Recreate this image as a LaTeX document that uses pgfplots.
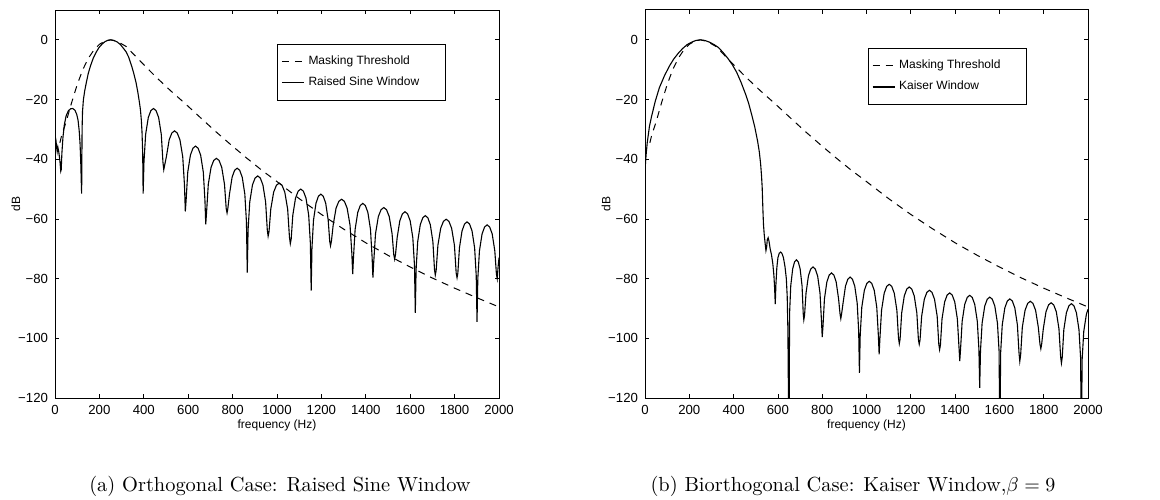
\documentclass[border=0pt]{standalone}
\usepackage{fontspec}
\usepackage{pgfplots}
\pgfplotsset{compat=1.18}
\newfontfamily\hv{Liberation Sans}

\pgfplotstableread{
x y
22 -34.5
30 -32
50 -27.5
75 -21
100 -15
125 -10
150 -6.2
175 -3.4
200 -1.5
225 -0.4
250 0
280 -0.5
320 -2.2
380 -6.8
450 -12.1
520 -17
590 -21.6
660 -26.4
725 -30.8
790 -35
860 -39.4
930 -43.6
1000 -47.5
1100 -53.2
1200 -58.5
1300 -63.4
1400 -68
1500 -72.2
1600 -76.1
1700 -79.8
1800 -83.2
1900 -86.4
2000 -89.5
}\mask

\pgfplotstableread{
x y
0 -32
4 -33.5
8 -36.5
10 -37.5
13 -36
17 -37.5
22 -40.5
26 -44
28 -43.5
31 -38
36 -32.5
42 -28.5
50 -25.5
60 -23.8
70 -23.1
80 -23
90 -23.6
98 -25
104 -27
109 -30.5
113 -35
116 -41
118.5 -48
120 -51.5
122 -30
124 -24
128 -20
134 -17
142 -14
150 -11.2
160 -8.7
172 -6.2
185 -4.2
198 -2.6
211 -1.5
225 -0.6
238 -0.15
252 0
266 -0.2
280 -0.7
295 -1.6
310 -3
320 -4
332 -5.8
345 -8.7
355 -11.3
365 -14.3
373 -17.5
380 -20.8
385 -23.5
389 -27
392 -31
395 -38
397 -51.5
400.7 -41
408.2 -31.7
420.3 -26
431.9 -23.7
443.5 -23
455.1 -23.7
466.8 -26
478.8 -31.7
486.3 -41
490 -43.5
493.9 -42
501.6 -39.2
514.3 -33.5
526.4 -31.2
538.5 -30.5
550.6 -31.2
562.8 -33.5
575.4 -39.2
583.1 -48.5
587 -57.5
590.7 -53.6
598 -44.3
610 -38.6
621.5 -36.3
633 -35.6
644.5 -36.3
656 -38.6
668 -44.3
675.3 -53.6
679 -61.8
682.8 -57.7
690.5 -48.4
703 -42.7
715 -40.4
727 -39.7
739 -40.4
751 -42.7
763.5 -48.4
771.2 -56.5
775 -58
778.6 -56.5
785.9 -51.7
797.8 -46
809.1 -43.7
820.5 -43
831.9 -43.7
843.3 -46
855.1 -51.7
862.4 -61
866 -78
869.8 -63.6
877.3 -54.3
889.5 -48.6
901.3 -46.3
913 -45.6
924.8 -46.3
936.5 -48.6
948.7 -54.3
956.2 -63.6
960 -65.8
964 -64.3
972 -56.7
985 -51
997.5 -48.7
1010 -48
1022.5 -48.7
1035 -51
1048 -56.7
1056 -66
1060 -68.3
1063.8 -66.8
1071.3 -58.7
1083.5 -53
1095.3 -50.7
1107 -50
1118.8 -50.7
1130.5 -53
1142.7 -58.7
1150.2 -68
1154 -84
1157.5 -69.7
1164.4 -60.4
1175.8 -54.7
1186.6 -52.4
1197.5 -51.7
1208.4 -52.4
1219.3 -54.7
1230.6 -60.4
1237.5 -67.5
1241 -69
1245 -67.5
1253 -62.1
1266 -56.4
1278.5 -54.1
1291 -53.4
1303.5 -54.1
1316 -56.4
1329 -62.1
1337 -71.4
1341 -78.5
1344.6 -72.8
1351.9 -63.5
1363.8 -57.8
1375.1 -55.5
1386.5 -54.8
1397.9 -55.5
1409.3 -57.8
1421.1 -63.5
1428.4 -72.8
1432 -79.7
1435.9 -74.2
1443.8 -64.9
1456.5 -59.2
1468.8 -56.9
1481 -56.2
1493.3 -56.9
1505.5 -59.2
1518.2 -64.9
1526.1 -72
1530 -73.5
1533.7 -72
1541.2 -66.3
1553.3 -60.6
1564.9 -58.3
1576.5 -57.6
1588.1 -58.3
1599.8 -60.6
1611.8 -66.3
1619.3 -75.6
1623 -91.5
1626.6 -76.9
1633.8 -67.6
1645.5 -61.9
1656.8 -59.6
1668 -58.9
1679.3 -59.6
1690.5 -61.9
1702.2 -67.6
1709.4 -76.9
1713 -78.8
1716.9 -77.3
1724.8 -68.8
1737.5 -63.1
1749.8 -60.8
1762 -60.1
1774.3 -60.8
1786.5 -63.1
1799.2 -68.8
1807.1 -78.1
1811 -79.7
1814.6 -78.2
1821.8 -69.7
1833.5 -64
1844.8 -61.7
1856 -61
1867.3 -61.7
1878.5 -64
1890.2 -69.7
1897.4 -79
1901 -94.5
1904.6 -80
1911.9 -70.7
1923.8 -65
1935.1 -62.7
1946.5 -62
1957.9 -62.7
1969.3 -65
1981.1 -70.7
1988.4 -78.5
1992 -80
1996 -76
2000 -73
}\rsw

\pgfplotstableread{
x y
0 -46
2 -41.5
5 -38.5
10 -34.5
20 -29
30 -25.5
47 -20.4
65 -16
88 -12
110 -8.8
129 -6.5
150 -4.5
170 -2.9
190 -1.6
210 -0.8
230 -0.2
250 0
270 -0.2
292 -0.8
312 -1.6
332 -2.6
352 -4.2
373 -6.1
394 -8.3
414 -10.9
434 -14.3
454 -18.2
468 -21.3
481 -24.9
495 -29
508 -33.8
516 -37.5
522 -41.6
526 -45.5
529 -49.4
531 -54
533 -58.4
535 -62
538 -65
542 -68
546 -70.6
549 -69.5
552 -67
556 -66.3
560 -67.5
565 -70
571 -72
577 -75
582 -79
585 -83
588 -88.5
591 -82
595 -76.5
600 -73
606 -71.5
612 -71.1
618 -71.5
625 -73
632 -76
638 -80
642 -86
645 -97
650 -140
652.7 -91.7
658 -82.4
666.8 -76.7
675.1 -74.4
683.5 -73.7
691.9 -74.4
700.3 -76.7
709 -82.4
714.3 -91.7
717 -93.8
720.3 -92.3
727 -84.8
737.8 -79.1
748.1 -76.8
758.5 -76.1
768.9 -76.8
779.3 -79.1
790 -84.8
796.7 -94.1
800 -99.6
803.4 -96.1
810.1 -86.8
821 -81.1
831.5 -78.8
842 -78.1
852.5 -78.8
863 -81.1
873.9 -86.8
880.6 -91.9
884 -93.4
887.4 -91.9
894.1 -88.2
905 -82.5
915.5 -80.2
926 -79.5
936.5 -80.2
947 -82.5
957.9 -88.2
964.6 -97.5
968 -111.6
971.6 -98.9
978.7 -89.6
990.3 -83.9
1001.4 -81.6
1012.5 -80.9
1023.6 -81.6
1034.8 -83.9
1046.3 -89.6
1053.4 -98.9
1057 -105.4
1060.6 -99.9
1067.9 -90.6
1079.8 -84.9
1091.1 -82.6
1102.5 -81.9
1113.9 -82.6
1125.3 -84.9
1137.1 -90.6
1144.4 -99.9
1148 -101.8
1151.6 -100.3
1158.8 -91.5
1170.5 -85.8
1181.8 -83.5
1193 -82.8
1204.3 -83.5
1215.5 -85.8
1227.2 -91.5
1234.4 -100.5
1238 -102
1241.7 -100.5
1249 -92.6
1261 -86.9
1272.5 -84.6
1284 -83.9
1295.5 -84.6
1307 -86.9
1319 -92.6
1326.3 -101.9
1330 -103.8
1333.6 -102.3
1340.9 -93.5
1352.8 -87.8
1364.1 -85.5
1375.5 -84.8
1386.9 -85.5
1398.3 -87.8
1410.1 -93.5
1417.4 -102.8
1421 -107.6
1424.6 -103.6
1431.8 -94.3
1443.5 -88.6
1454.8 -86.3
1466 -85.6
1477.3 -86.3
1488.5 -88.6
1500.2 -94.3
1507.4 -103.6
1511 -116.6
1514.6 -104.2
1521.9 -94.9
1533.8 -89.2
1545.1 -86.9
1556.5 -86.2
1567.9 -86.9
1579.3 -89.2
1591.1 -94.9
1598.4 -104.2
1602 -135
1605.6 -104.8
1612.8 -95.5
1624.5 -89.8
1635.8 -87.5
1647 -86.8
1658.3 -87.5
1669.5 -89.8
1681.2 -95.5
1688.4 -104.8
1692 -107.7
1695.8 -105.6
1703.4 -96.3
1715.8 -90.6
1727.6 -88.3
1739.5 -87.6
1751.4 -88.3
1763.3 -90.6
1775.6 -96.3
1783.2 -102
1787 -103.5
1790.7 -102
1798.2 -96.8
1810.3 -91.1
1821.9 -88.8
1833.5 -88.1
1845.1 -88.8
1856.8 -91.1
1868.8 -96.8
1876.3 -106.1
1880 -108.3
1883.6 -106.4
1890.8 -97.1
1902.5 -91.4
1913.8 -89.1
1925 -88.4
1936.3 -89.1
1947.5 -91.4
1959.2 -97.1
1966.4 -106.4
1970 -135
1973.6 -107
1980.8 -97.7
1992.5 -92
2000 -90.3
}\kw

\pgfplotsset{
  myax/.style={
    scale only axis, width=222pt, height=194pt,
    xmin=0, xmax=2000, ymin=-120, ymax=10,
    xtick={0,200,...,2000}, ytick={-120,-100,...,0},
    yticklabels={−120,−100,−80,−60,−40,−20,0},
    tick align=inside, major tick length=2pt,
    tick style={line width=0.4pt, black},
    axis line style={line width=0.5pt},
    ticklabel style={font=\hv\fontsize{6.6}{7.5}\selectfont},
    /pgf/number format/assume math mode=true,
    /pgf/number format/1000 sep={},
    scaled ticks=false,
    xlabel={frequency (Hz)}, ylabel={dB},
    label style={font=\hv\fontsize{6}{7}\selectfont},
    xlabel style={yshift=4pt},
    ylabel style={at={(axis description cs:-0.088,0.5)}, anchor=center},
    legend cell align=left,
    legend image code/.code={\draw[#1] (0pt,0pt) -- (11pt,0pt);},
    legend style={draw=black, line width=0.4pt, fill=white,
      font=\hv\fontsize{6}{7}\selectfont, inner xsep=2pt, inner ysep=3.6pt,
      row sep=1pt, anchor=north west},
  },
  dsh/.style={black, line width=0.5pt, dash pattern=on 3.5pt off 3pt},
  sld/.style={black, line width=0.55pt},
}

\begin{document}
\begin{tikzpicture}
\useasboundingbox (0,0) rectangle (580pt,249.5pt);

\begin{axis}[myax, at={(27.5pt,50.5pt)}, anchor=south west,
  legend style={at={(axis cs:1000,-1.3)}}]
\addplot[dsh] table {\mask};
\addlegendentry{Masking Threshold}
\addplot[sld] table {\rsw};
\addlegendentry{Raised Sine Window\rule{9pt}{0pt}}
\end{axis}

\begin{axis}[myax, at={(322.5pt,50.5pt)}, anchor=south west, width=221.5pt,
  legend style={at={(axis cs:1005,-2.7)}}]
\addplot[dsh] table {\mask};
\addlegendentry{Masking Threshold\rule{9pt}{0pt}}
\addplot[sld] table {\kw};
\addlegendentry{Kaiser Window}
\end{axis}

\node[anchor=base] at (140pt,4pt) {\fontsize{10.2}{12}\selectfont (a) Orthogonal Case: Raised Sine Window};
\node[anchor=base] at (426.5pt,4pt) {\fontsize{10.2}{12}\selectfont (b) Biorthogonal Case: Kaiser Window,$\beta=9$};
\end{tikzpicture}
\end{document}
